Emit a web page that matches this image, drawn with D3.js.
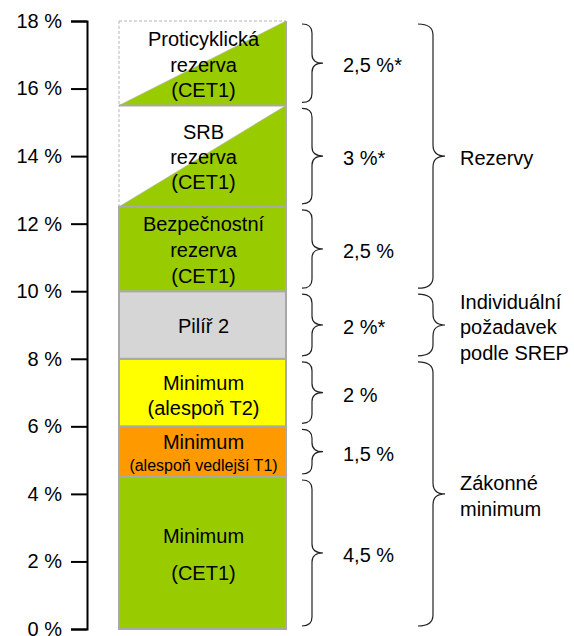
<!DOCTYPE html>
<html><head><meta charset="utf-8">
<script src="https://cdn.jsdelivr.net/npm/d3@7"></script>
<style>body{margin:0;background:#fff}svg{display:block}text{font-family:"Liberation Sans",Arial,sans-serif;fill:#000}</style>
</head><body>
<svg id="c" width="574" height="636"></svg>
<script>
// Data
const segmentNames = ["Minimum (CET1)","Minimum (alespoň vedlejší T1)","Minimum (alespoň T2)","Pilíř 2","Bezpečnostní rezerva (CET1)","SRB rezerva (CET1)","Proticyklická rezerva (CET1)"];
const segmentValues = [4.5, 1.5, 2, 2, 2.5, 3, 2.5];
const segmentLines = [["Minimum","(CET1)"],["Minimum","(alespoň vedlejší T1)"],["Minimum","(alespoň T2)"],["Pilíř 2"],["Bezpečnostní","rezerva","(CET1)"],["SRB","rezerva","(CET1)"],["Proticyklická","rezerva","(CET1)"]];
const segmentTypes = ["green","orange","yellow","gray","green","half","half"];
const braceLabels = ["4,5 %","1,5 %","2 %","2 %*","2,5 %","3 %*","2,5 %*"];
const groupNames = [["Zákonné","minimum"],["Individuální","požadavek","podle SREP"],["Rezervy"]];
const groupFrom = [0, 8, 10];
const groupTo = [8, 10, 18];
const tickValues = [0,2,4,6,8,10,12,14,16,18];

const svg = d3.select("#c");
const y = d3.scaleLinear().domain([0,18]).range([629,21]);
const x = d3.scaleBand().domain(["bar"]).range([119,286]).padding(0);

const colors = {green:"#99cc00",orange:"#ff9900",yellow:"#ffff00",gray:"#d6d6d6"};
const border = "#a9a9a9";

// stacked
let acc = 0;
const segs = segmentValues.map((v,i)=>{const s={i,v,y0:acc,y1:acc+v,type:segmentTypes[i],lines:segmentLines[i],name:segmentNames[i]};acc+=v;return s;});

const bx0 = x("bar"), bw = x.bandwidth();
const g = svg.append("g");
segs.forEach(s=>{
  const top = y(s.y1), bot = y(s.y0);
  if(s.type==="half"){
    g.append("rect").attr("x",bx0).attr("y",top).attr("width",bw).attr("height",bot-top)
      .attr("fill","#fff").attr("stroke","#b5b5b5").attr("stroke-width",1).attr("stroke-dasharray","3,2");
    g.append("path").attr("d",`M${bx0},${bot}L${bx0+bw},${top}L${bx0+bw},${bot}Z`).attr("fill",colors.green)
      .attr("stroke","#b0b0b0").attr("stroke-width",0.6);
    g.append("line").attr("x1",bx0+bw).attr("x2",bx0+bw).attr("y1",top).attr("y2",bot).attr("stroke",border).attr("stroke-width",2);
  } else {
    g.append("rect").attr("x",bx0).attr("y",top).attr("width",bw).attr("height",bot-top)
      .attr("fill",colors[s.type]).attr("stroke",border).attr("stroke-width",2);
  }
});
// separator lines between half segments
segs.forEach(s=>{
  if(s.type==="half"){
    g.append("line").attr("x1",bx0).attr("x2",bx0+bw).attr("y1",y(s.y0)).attr("y2",y(s.y0)).attr("stroke",border).attr("stroke-width",2);
  }
});

// labels inside bar
const lineSpec = {
  0:{offs:[-17,20],sizes:[20,20]},
  1:{offs:[-9.5,13.5],sizes:[20,16]},
  2:{offs:[-10,15],sizes:[20,20]},
  3:{offs:[1],sizes:[20]},
  4:{offs:[-25,1,27],sizes:[20,20,20]},
  5:{offs:[-24,1,26],sizes:[20,20,20]},
  6:{offs:[-24,2,27],sizes:[20,20,20]}
};
segs.forEach(s=>{
  const cy = (y(s.y0)+y(s.y1))/2;
  const sp = lineSpec[s.i];
  s.lines.forEach((t,j)=>{
    g.append("text").attr("x",bx0+bw/2+1).attr("y",cy+sp.offs[j]).attr("dy","0.36em")
      .attr("text-anchor","middle").style("font-size",sp.sizes[j]+"px").text(t);
  });
});

// brace
function brace(x0, xv, xt, yTop, yBot, r){
  const ym = (yTop+yBot)/2;
  return `M${x0},${yTop}Q${xv},${yTop} ${xv},${yTop+r}L${xv},${ym-r}Q${xv},${ym} ${xt},${ym}Q${xv},${ym} ${xv},${ym+r}L${xv},${yBot-r}Q${xv},${yBot} ${x0},${yBot}`;
}
segs.forEach(s=>{
  const yTop = y(s.y1)+3, yBot = y(s.y0)-3;
  g.append("path").attr("d",brace(302,312,323,yTop,yBot,9)).attr("fill","none").attr("stroke","#222").attr("stroke-width",1.2);
  g.append("text").attr("x",343).attr("y",(yTop+yBot)/2+2).attr("dy","0.36em").style("font-size","20px").text(braceLabels[s.i]);
});
groupNames.forEach((lines,i)=>{
  const yTop = y(groupTo[i])+3, yBot = y(groupFrom[i])-3;
  g.append("path").attr("d",brace(418,433,445,yTop,yBot,11)).attr("fill","none").attr("stroke","#222").attr("stroke-width",1.2);
  const cy = (yTop+yBot)/2;
  const lh = 25.5;
  lines.forEach((t,j)=>{
    g.append("text").attr("x",460).attr("y",cy+2+(j-(lines.length-1)/2)*lh).attr("dy","0.36em").style("font-size","20px").text(t);
  });
});

// axis
const axis = d3.axisLeft(y).tickValues(tickValues).tickSize(16).tickPadding(9).tickFormat(d=>d+" %");
const ag = svg.append("g").attr("transform","translate(87,0)").call(axis);
ag.selectAll("path,line").attr("stroke","#000").attr("stroke-width",2);
ag.selectAll("text").style("font-size","20px").attr("fill","#000").attr("font-family","'Liberation Sans',Arial,sans-serif");
</script>
</body></html>
